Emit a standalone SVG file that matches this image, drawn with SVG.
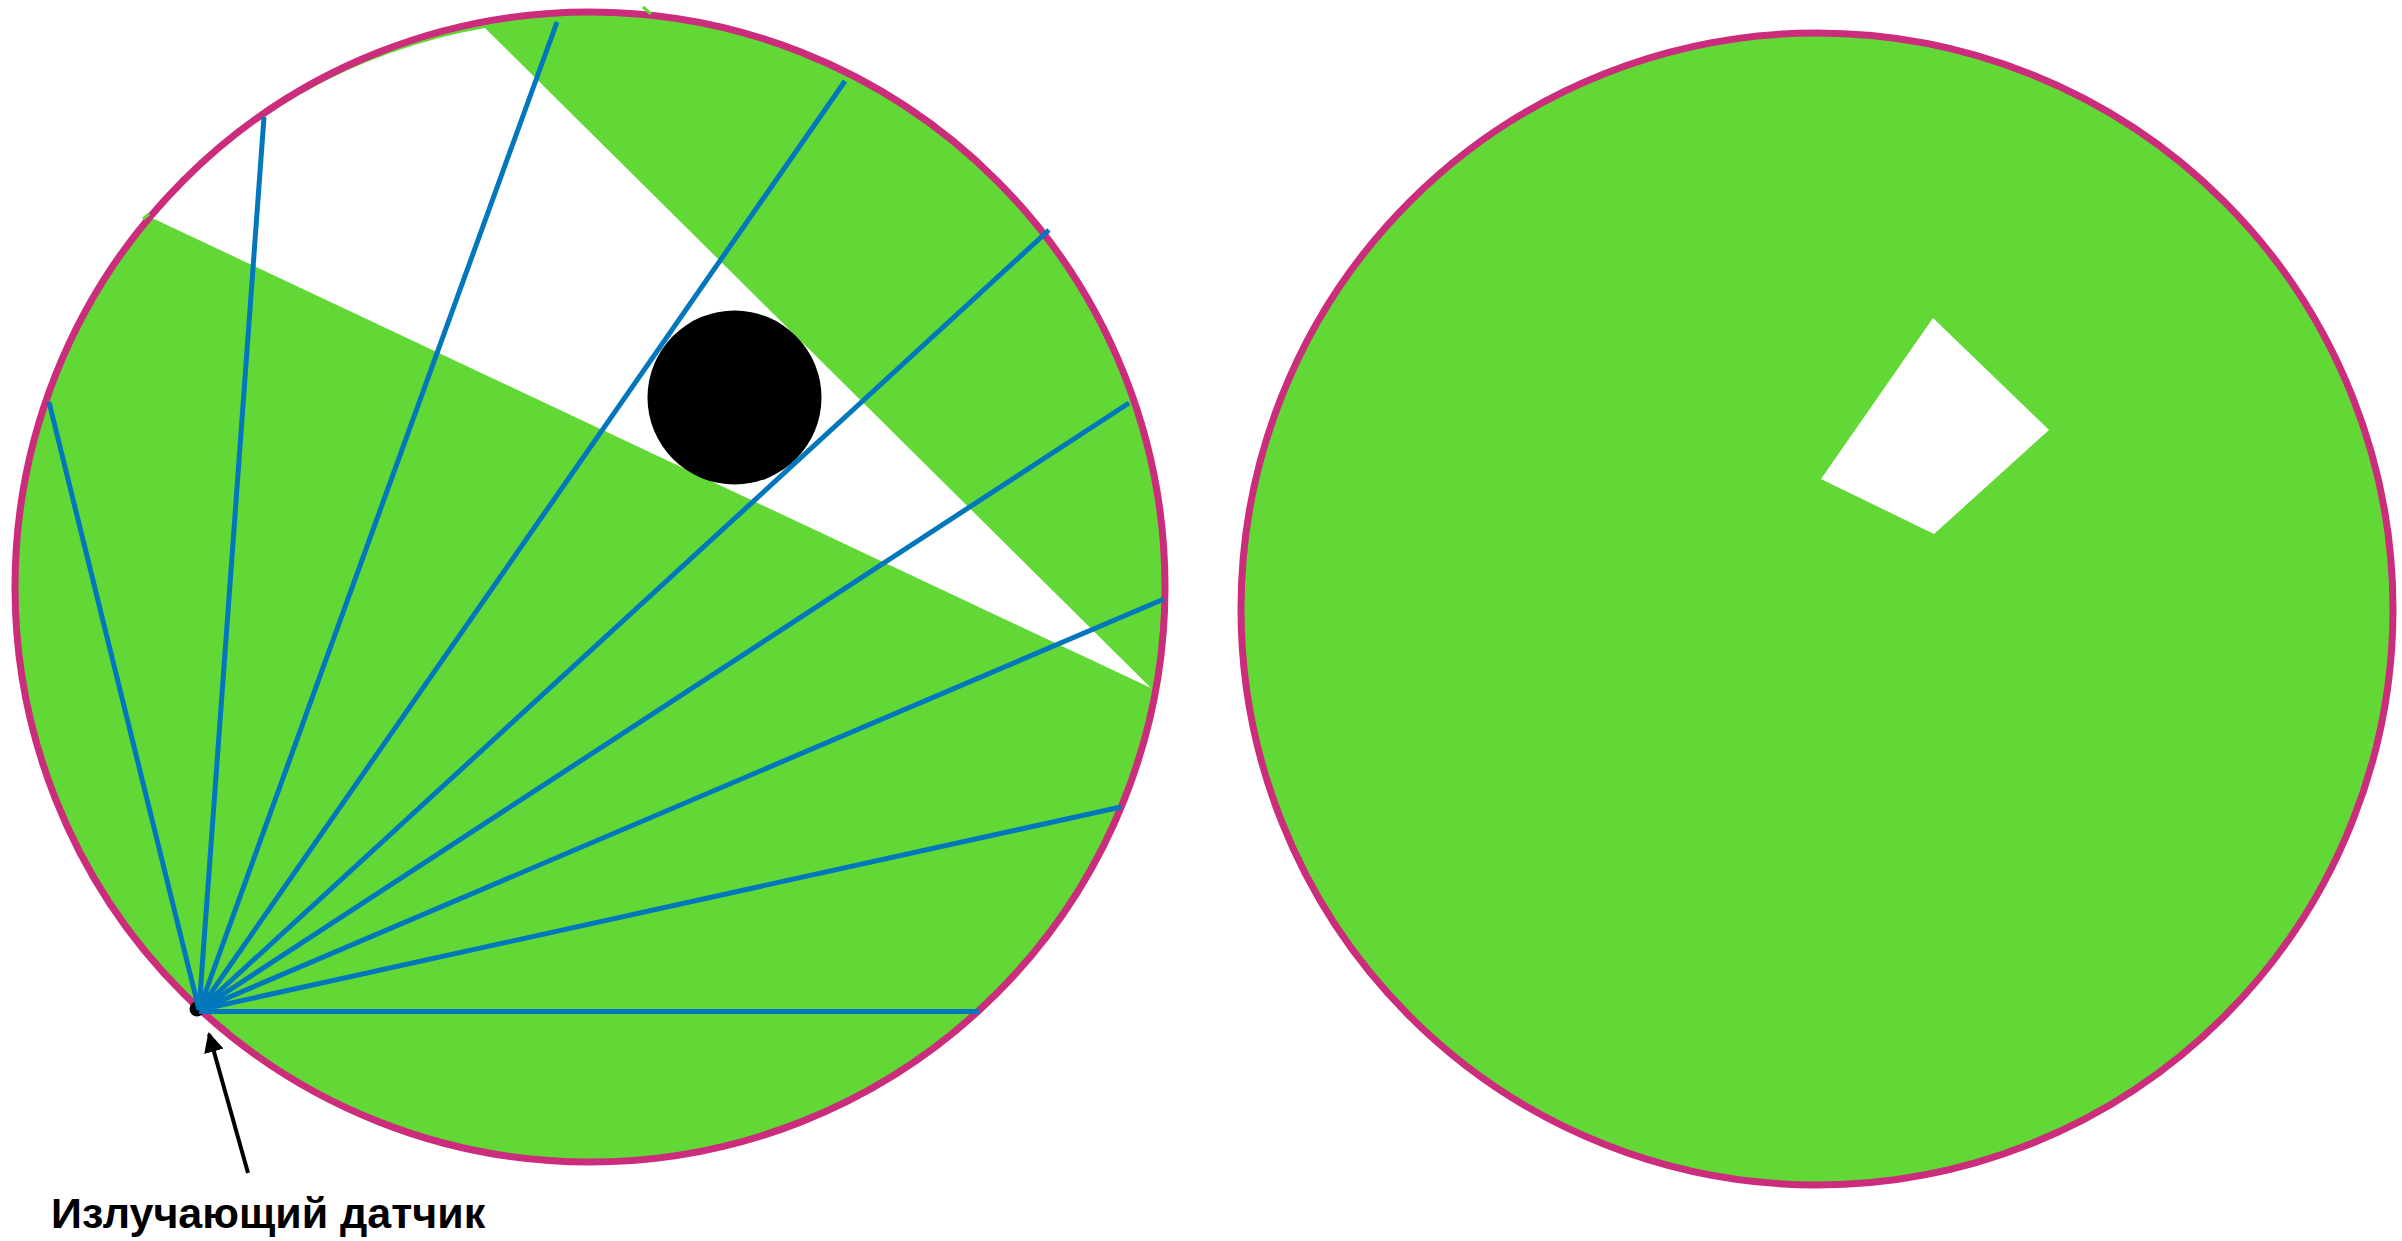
<svg xmlns="http://www.w3.org/2000/svg" width="2402" height="1241" viewBox="0 0 2402 1241">
  <defs>
    <style>
      .disc { fill: #62D837; }
      .rim { fill: none; stroke: #CB2C7B; stroke-width: 7; }
      .ray { stroke: #0277BC; stroke-width: 5; stroke-linecap: butt; fill: none; }
      .shadow { fill: #FFFFFF; }
      .label { font-family: "Liberation Sans", Arial, Helvetica, sans-serif; font-weight: bold; font-size: 43px; fill: #000000; }
    </style>
    <marker id="arrowhead" viewBox="0 0 10 10" refX="9" refY="5" markerWidth="5" markerHeight="5" markerUnits="strokeWidth" orient="auto">
      <path d="M0,0 L10,5 L0,10 Z" fill="#000000"/>
    </marker>
  </defs>
  <rect x="0" y="0" width="2402" height="1241" fill="#FFFFFF"/>

  <g id="left-scene">
    <circle class="disc" cx="590" cy="587" r="575"/>
    <path id="shadow-wedge" class="shadow" d="M1151,688 L150,217 A575,575 0 0 1 485,28 Z"/>
    <circle class="rim" cx="590" cy="587" r="575"/>
    <line x1="643" y1="7" x2="651" y2="14" stroke="#62D837" stroke-width="3"/>
    <line x1="143" y1="219" x2="149" y2="214" stroke="#62D837" stroke-width="3"/>
  </g>

  <g id="obstacle">
    <circle cx="734.5" cy="397.5" r="87" fill="#000000"/>
  </g>

  <g id="sensor">
    <circle cx="197" cy="1009" r="7.5" fill="#000000"/>
  </g>

  <g id="rays">
    <line class="ray" x1="199" y1="1010" x2="49" y2="402"/>
    <line class="ray" x1="199" y1="1010" x2="264" y2="117"/>
    <line class="ray" x1="199" y1="1010" x2="557" y2="22"/>
    <line class="ray" x1="199" y1="1010" x2="845" y2="81"/>
    <line class="ray" x1="199" y1="1010" x2="1049" y2="230"/>
    <line class="ray" x1="199" y1="1010" x2="1129" y2="403"/>
    <line class="ray" x1="199" y1="1010" x2="1164" y2="599"/>
    <line class="ray" x1="199" y1="1010" x2="1121" y2="807"/>
    <line class="ray" x1="199" y1="1011.5" x2="979" y2="1011.5"/>
  </g>

  <g id="pointer">
    <line x1="248" y1="1173" x2="209" y2="1034" stroke="#000000" stroke-width="4" marker-end="url(#arrowhead)"/>
  </g>

  <g id="sensor-label">
    <text class="label" x="51" y="1228">Излучающий датчик</text>
  </g>

  <g id="right-scene">
    <circle class="disc" cx="1817" cy="609" r="576"/>
    <polygon class="shadow" points="1933,318 2049,430 1934,534 1821,479"/>
    <circle class="rim" cx="1817" cy="609" r="576"/>
    <polygon fill="#FFFFFF" points="2364,742 2377,748 2370,745"/>
  </g>
</svg>
